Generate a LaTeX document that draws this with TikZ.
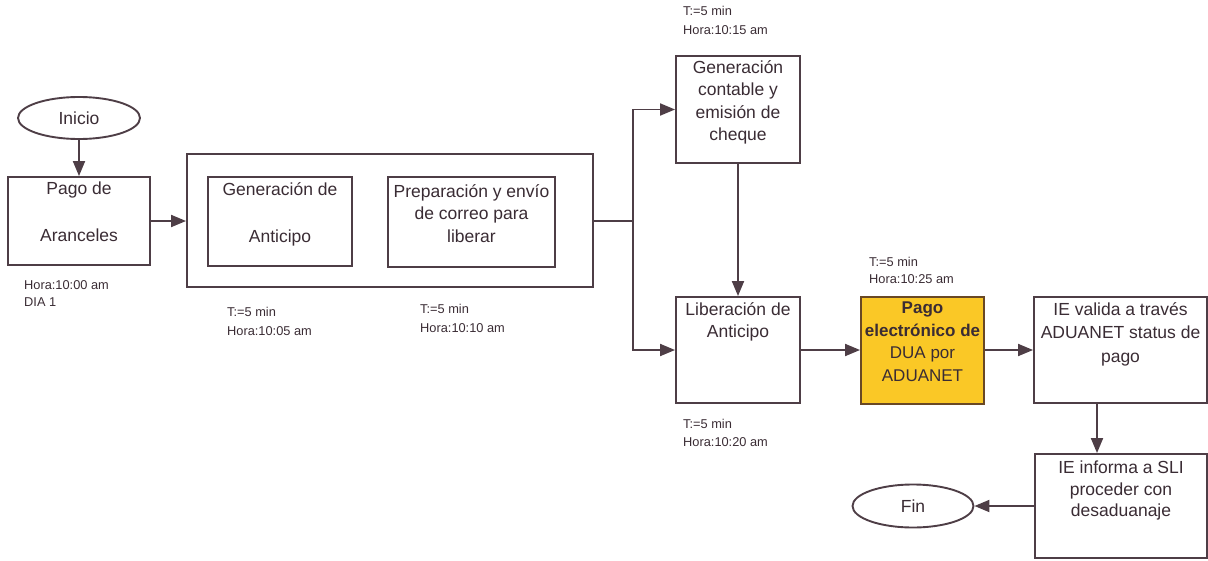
\documentclass[tikz,border=0pt]{standalone}
\usepackage{fontspec}
\setmainfont{Liberation Sans}
\usetikzlibrary{arrows.meta,shapes.geometric}
\definecolor{linec}{RGB}{78,62,70}
\definecolor{inkc}{RGB}{58,44,52}
\definecolor{goldfill}{RGB}{250,200,38}
\definecolor{goldedge}{RGB}{105,72,36}

\begin{document}
\begin{tikzpicture}[x=1pt,y=-1pt,
  box/.style={draw=linec, line width=1.9pt, inner sep=0pt, fill=white},
  goldbox/.style={box, draw=goldedge, fill=goldfill},
  oval/.style={ellipse, draw=linec, line width=1.9pt, inner sep=0pt,
    text=inkc, font=\fontsize{17.5}{21}\selectfont},
  txt/.style={align=center, inner sep=0pt, anchor=north, text=inkc,
    font=\fontsize{17.5}{22.5}\selectfont,
    execute at begin node={\rule{0pt}{14pt}}},
  wide/.style={font=\fontsize{17.5}{47}\selectfont},
  note/.style={align=left, inner sep=0pt, anchor=north west, text=inkc,
    font=\fontsize{12.8}{19}\selectfont,
    execute at begin node={\rule{0pt}{10pt}}},
  arr/.style={draw=linec, line width=1.9pt,
    -{Triangle[length=15pt,width=12pt]}},
  ln/.style={draw=linec, line width=1.9pt}
]
\useasboundingbox (0,0) rectangle (1208,560);

% start and end ovals
\node[oval, minimum width=122, minimum height=42] (inicio) at (79,118) {Inicio};
\node[oval, minimum width=121, minimum height=43] (fin) at (913,506) {Fin};

% process boxes
\node[box, minimum width=142, minimum height=88] (pago) at (79,221) {};
\node[box, minimum width=406, minimum height=133] (cont) at (390,220.5) {};
\node[box, minimum width=144, minimum height=89] (genant) at (280,221.5) {};
\node[box, minimum width=167, minimum height=90] (prep) at (471.5,222) {};
\node[box, minimum width=124, minimum height=107] (gencont) at (738,109.5) {};
\node[box, minimum width=124, minimum height=106] (lib) at (738,350) {};
\node[goldbox, minimum width=123, minimum height=107] (pagoe) at (922.5,350.5) {};
\node[box, minimum width=173, minimum height=106] (valida) at (1120.5,350) {};
\node[box, minimum width=172, minimum height=104] (informa) at (1121,506) {};

% box texts
\node[txt, wide] (pago-t) at (79,182) {Pago de\\Aranceles};
\node[txt, wide] (genant-t) at (280,182) {Generación de\\Anticipo};
\node[txt] (prep-t) at (471.5,184) {Preparación y envío\\de correo para\\liberar};
\node[txt] (gencont-t) at (738,60) {Generación\\contable y\\emisión de\\cheque};
\node[txt] (lib-t) at (738,302) {Liberación de\\Anticipo};
\node[txt, font=\fontsize{17}{22.5}\selectfont] (pagoe-t) at (922.5,302)
  {\textbf{Pago}\\\textbf{electrónico de}\\DUA por\\ADUANET};
\node[txt, font=\fontsize{17.5}{23.5}\selectfont] (valida-t) at (1120.5,302)
  {IE valida a través\\ADUANET status de\\pago};
\node[txt, font=\fontsize{17.5}{21.5}\selectfont] (informa-t) at (1121,461)
  {IE informa a SLI\\proceder con\\desaduanaje};

% time notes
\node[note, font=\fontsize{12.8}{17}\selectfont] (n0) at (24,280.5) {Hora:10:00 am\\DIA 1};
\node[note] (n1) at (227,307.5) {T:=5 min\\Hora:10:05 am};
\node[note] (n2) at (420,304.5) {T:=5 min\\Hora:10:10 am};
\node[note] (n3) at (683,6.5) {T:=5 min\\Hora:10:15 am};
\node[note, font=\fontsize{12.8}{18}\selectfont] (n4) at (683,419.5) {T:=5 min\\Hora:10:20 am};
\node[note, font=\fontsize{12.8}{17}\selectfont] (n5) at (869,257.5) {T:=5 min\\Hora:10:25 am};

% connectors
\coordinate (split) at (633,221);
\draw[arr] (inicio.south) -- (pago.north);
\draw[arr] (pago.east) -- (cont.west |- pago.east);
\draw[ln] (cont.east |- split) -- (split);
\draw[arr] (split) |- (gencont.west);
\draw[arr] (split) |- (lib.west);
\draw[arr] (gencont.south) -- (lib.north);
\draw[arr] (lib.east) -- (pagoe.west |- lib.east);
\draw[arr] (pagoe.east |- lib.east) -- (valida.west);
\draw[arr] ([xshift=-23.5pt]valida.south) -- ([xshift=-24pt]informa.north);
\draw[arr] (informa.west) -- (fin.east);
\end{tikzpicture}
\end{document}
